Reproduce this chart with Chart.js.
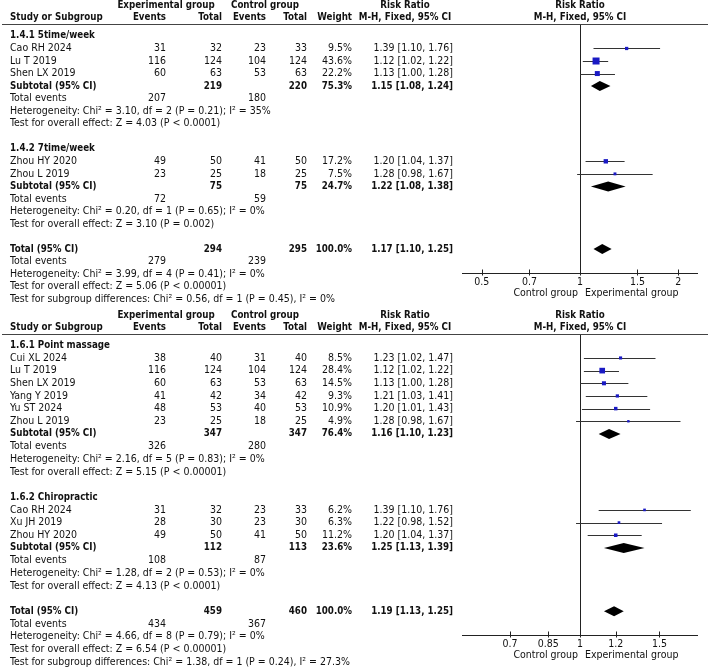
<!DOCTYPE html>
<html>
<head>
<meta charset="utf-8">
<script src="https://cdn.jsdelivr.net/npm/chart.js@4.4.1/dist/chart.umd.min.js"></script>
<style>
    html, body { margin: 0; padding: 0; background: #fff; }
    #wrap { position: relative; width: 708px; height: 672px; }
    canvas { position: absolute; left: 0; }
</style>
</head>
<body>
<div id="wrap">
    <canvas id="forest1" width="708" height="312" style="top:0"></canvas>
    <canvas id="forest2" width="708" height="362" style="top:310px"></canvas>
</div>
<script>
// ---- panel 1: 1.4 frequency ----
const p1Subgroups = ['1.4.1 5time/week', '1.4.2 7time/week'];
const p1Studies = ['Cao RH 2024', 'Lu T 2019', 'Shen LX 2019', 'Zhou HY 2020', 'Zhou L 2019'];
const p1Group = [0, 0, 0, 1, 1];
const p1ExpEvents = [31, 116, 60, 49, 23];
const p1ExpTotal = [32, 124, 63, 50, 25];
const p1CtrlEvents = [23, 104, 53, 41, 18];
const p1CtrlTotal = [33, 124, 63, 50, 25];
const p1Weight = [9.5, 43.6, 22.2, 17.2, 7.5];
const p1RR = [1.39, 1.12, 1.13, 1.20, 1.28];
const p1Lo = [1.10, 1.02, 1.00, 1.04, 0.98];
const p1Hi = [1.76, 1.22, 1.28, 1.37, 1.67];
const p1SubExpEvents = [207, 72];
const p1SubCtrlEvents = [180, 59];
const p1SubExpTotal = [219, 75];
const p1SubCtrlTotal = [220, 75];
const p1SubWeight = [75.3, 24.7];
const p1SubRR = [1.15, 1.22];
const p1SubLo = [1.08, 1.08];
const p1SubHi = [1.24, 1.38];
const p1SubHet = ['Heterogeneity: Chi² = 3.10, df = 2 (P = 0.21); I² = 35%', 'Heterogeneity: Chi² = 0.20, df = 1 (P = 0.65); I² = 0%'];
const p1SubTest = ['Test for overall effect: Z = 4.03 (P < 0.0001)', 'Test for overall effect: Z = 3.10 (P = 0.002)'];
const p1TotalEvents = [279, 239];
const p1TotalN = [294, 295];
const p1TotalRR = [1.17, 1.10, 1.25]; // estimate, lower, upper
const p1TotalNotes = ['Heterogeneity: Chi² = 3.99, df = 4 (P = 0.41); I² = 0%', 'Test for overall effect: Z = 5.06 (P < 0.00001)', 'Test for subgroup differences: Chi² = 0.56, df = 1 (P = 0.45), I² = 0%'];
const p1Ticks = [0.5, 0.7, 1, 1.5, 2];

// ---- panel 2: 1.6 method ----
const p2Subgroups = ['1.6.1 Point massage', '1.6.2 Chiropractic'];
const p2Studies = ['Cui XL 2024', 'Lu T 2019', 'Shen LX 2019', 'Yang Y 2019', 'Yu ST 2024', 'Zhou L 2019', 'Cao RH 2024', 'Xu JH 2019', 'Zhou HY 2020'];
const p2Group = [0, 0, 0, 0, 0, 0, 1, 1, 1];
const p2ExpEvents = [38, 116, 60, 41, 48, 23, 31, 28, 49];
const p2ExpTotal = [40, 124, 63, 42, 53, 25, 32, 30, 50];
const p2CtrlEvents = [31, 104, 53, 34, 40, 18, 23, 23, 41];
const p2CtrlTotal = [40, 124, 63, 42, 53, 25, 33, 30, 50];
const p2Weight = [8.5, 28.4, 14.5, 9.3, 10.9, 4.9, 6.2, 6.3, 11.2];
const p2RR = [1.23, 1.12, 1.13, 1.21, 1.20, 1.28, 1.39, 1.22, 1.20];
const p2Lo = [1.02, 1.02, 1.00, 1.03, 1.01, 0.98, 1.10, 0.98, 1.04];
const p2Hi = [1.47, 1.22, 1.28, 1.41, 1.43, 1.67, 1.76, 1.52, 1.37];
const p2SubExpEvents = [326, 108];
const p2SubCtrlEvents = [280, 87];
const p2SubExpTotal = [347, 112];
const p2SubCtrlTotal = [347, 113];
const p2SubWeight = [76.4, 23.6];
const p2SubRR = [1.16, 1.25];
const p2SubLo = [1.10, 1.13];
const p2SubHi = [1.23, 1.39];
const p2SubHet = ['Heterogeneity: Chi² = 2.16, df = 5 (P = 0.83); I² = 0%', 'Heterogeneity: Chi² = 1.28, df = 2 (P = 0.53); I² = 0%'];
const p2SubTest = ['Test for overall effect: Z = 5.15 (P < 0.00001)', 'Test for overall effect: Z = 4.13 (P < 0.0001)'];
const p2TotalEvents = [434, 367];
const p2TotalN = [459, 460];
const p2TotalRR = [1.19, 1.13, 1.25];
const p2TotalNotes = ['Heterogeneity: Chi² = 4.66, df = 8 (P = 0.79); I² = 0%', 'Test for overall effect: Z = 6.54 (P < 0.00001)', 'Test for subgroup differences: Chi² = 1.38, df = 1 (P = 0.24), I² = 27.3%'];
const p2Ticks = [0.7, 0.85, 1, 1.2, 1.5];

const FONT = '"DejaVu Sans Condensed", "DejaVu Sans", sans-serif';
const TEXT = '#111';
const SQUARE = '#1a1ac4';
const ROW0 = 32;      // y of first body row
const PITCH = 12.95;  // px per row
// column anchors
const COL = { name: 10, expEv: 166, expTot: 222, ctrlEv: 266, ctrlTot: 307, weight: 352, ci: 453, ciMid: 405 };

function fmt(v) { return v.toFixed(2); }
function ciText(rr, lo, hi) { return fmt(rr) + ' [' + fmt(lo) + ', ' + fmt(hi) + ']'; }

function text(ctx, s, x, y, align, bold) {
    ctx.font = bold ? 'bold 9.7px ' + FONT : '10.5px ' + FONT;
    ctx.textAlign = align;
    ctx.textBaseline = 'middle';
    ctx.fillStyle = TEXT;
    ctx.fillText(s, x, y);
}

function buildRows(d) {
    const rows = [];
    const studyIdx = [];
    let idx = 0;
    d.subgroups.forEach((name, g) => {
        rows.push({ kind: 'group', idx: idx++, label: name });
        d.studies.forEach((s, i) => {
            if (d.group[i] !== g) return;
            studyIdx[i] = idx;
            rows.push({ kind: 'study', idx: idx++, i });
        });
        rows.push({ kind: 'subtotal', idx: idx++, g });
        rows.push({ kind: 'events', idx: idx++, exp: d.subExpEvents[g], ctrl: d.subCtrlEvents[g] });
        rows.push({ kind: 'note', idx: idx++, label: d.subHet[g] });
        rows.push({ kind: 'note', idx: idx++, label: d.subTest[g] });
        idx++; // blank line
    });
    const totalIdx = idx;
    rows.push({ kind: 'total', idx: idx++ });
    rows.push({ kind: 'events', idx: idx++, exp: d.totalEvents[0], ctrl: d.totalEvents[1] });
    d.totalNotes.forEach(n => rows.push({ kind: 'note', idx: idx++, label: n }));
    return { rows, studyIdx, totalIdx };
}

function forestPlugin(d, layout) {
    return {
        id: 'forest',
        beforeDatasetsDraw(chart) {
            const { ctx, scales: { x, y }, chartArea } = chart;
            const diamond = (rr, lo, hi, row) => {
                const py = y.getPixelForValue(row);
                ctx.beginPath();
                ctx.moveTo(x.getPixelForValue(lo), py);
                ctx.lineTo(x.getPixelForValue(rr), py - 5);
                ctx.lineTo(x.getPixelForValue(hi), py);
                ctx.lineTo(x.getPixelForValue(rr), py + 5);
                ctx.closePath();
                ctx.fillStyle = '#000';
                ctx.fill();
            };
            ctx.save();

            // header
            const x1 = x.getPixelForValue(1);
            text(ctx, 'Experimental group', COL.expEv, 5, 'center', true);
            text(ctx, 'Control group', COL.ctrlEv - 1, 5, 'center', true);
            text(ctx, 'Risk Ratio', COL.ciMid, 5, 'center', true);
            text(ctx, 'Risk Ratio', x1, 5, 'center', true);
            text(ctx, 'Study or Subgroup', COL.name, 17, 'left', true);
            text(ctx, 'Events', COL.expEv, 17, 'right', true);
            text(ctx, 'Total', COL.expTot, 17, 'right', true);
            text(ctx, 'Events', COL.ctrlEv, 17, 'right', true);
            text(ctx, 'Total', COL.ctrlTot, 17, 'right', true);
            text(ctx, 'Weight', COL.weight, 17, 'right', true);
            text(ctx, 'M-H, Fixed, 95% CI', COL.ciMid, 17, 'center', true);
            text(ctx, 'M-H, Fixed, 95% CI', x1, 17, 'center', true);
            ctx.strokeStyle = '#444';
            ctx.lineWidth = 1;
            ctx.beginPath();
            ctx.moveTo(2, 24.5);
            ctx.lineTo(708, 24.5);
            ctx.stroke();

            // line of no effect and axis
            const axisY = Math.round(y.getPixelForValue(layout.totalIdx + 1.9)) + 0.5;
            ctx.strokeStyle = '#222';
            ctx.beginPath();
            ctx.moveTo(Math.round(x1) + 0.5, 25);
            ctx.lineTo(Math.round(x1) + 0.5, axisY);
            ctx.moveTo(chartArea.left, axisY);
            ctx.lineTo(chartArea.right, axisY);
            d.ticks.forEach(t => {
                const px = Math.round(x.getPixelForValue(t)) + 0.5;
                ctx.moveTo(px, axisY - 4);
                ctx.lineTo(px, axisY + 2);
            });
            ctx.stroke();
            d.ticks.forEach(t => text(ctx, String(t), x.getPixelForValue(t), axisY + 9, 'center', false));
            text(ctx, 'Control group', x1 - 2, axisY + 20, 'right', false);
            text(ctx, 'Experimental group', x1 + 5, axisY + 20, 'left', false);

            // table rows and whiskers/diamonds
            layout.rows.forEach(r => {
                const py = y.getPixelForValue(r.idx);
                if (r.kind === 'group') {
                    text(ctx, r.label, COL.name, py, 'left', true);
                } else if (r.kind === 'study') {
                    const i = r.i;
                    text(ctx, d.studies[i], COL.name, py, 'left', false);
                    text(ctx, String(d.expEvents[i]), COL.expEv, py, 'right', false);
                    text(ctx, String(d.expTotal[i]), COL.expTot, py, 'right', false);
                    text(ctx, String(d.ctrlEvents[i]), COL.ctrlEv, py, 'right', false);
                    text(ctx, String(d.ctrlTotal[i]), COL.ctrlTot, py, 'right', false);
                    text(ctx, d.weight[i].toFixed(1) + '%', COL.weight, py, 'right', false);
                    text(ctx, ciText(d.rr[i], d.lo[i], d.hi[i]), COL.ci, py, 'right', false);
                    const yy = Math.round(py) + 0.5;
                    ctx.strokeStyle = '#333';
                    ctx.beginPath();
                    ctx.moveTo(x.getPixelForValue(d.lo[i]), yy);
                    ctx.lineTo(x.getPixelForValue(d.hi[i]), yy);
                    ctx.stroke();
                } else if (r.kind === 'subtotal') {
                    const g = r.g;
                    text(ctx, 'Subtotal (95% CI)', COL.name, py, 'left', true);
                    text(ctx, String(d.subExpTotal[g]), COL.expTot, py, 'right', true);
                    text(ctx, String(d.subCtrlTotal[g]), COL.ctrlTot, py, 'right', true);
                    text(ctx, d.subWeight[g].toFixed(1) + '%', COL.weight, py, 'right', true);
                    text(ctx, ciText(d.subRR[g], d.subLo[g], d.subHi[g]), COL.ci, py, 'right', true);
                    diamond(d.subRR[g], d.subLo[g], d.subHi[g], r.idx);
                } else if (r.kind === 'events') {
                    text(ctx, 'Total events', COL.name, py, 'left', false);
                    text(ctx, String(r.exp), COL.expEv, py, 'right', false);
                    text(ctx, String(r.ctrl), COL.ctrlEv, py, 'right', false);
                } else if (r.kind === 'note') {
                    text(ctx, r.label, COL.name, py, 'left', false);
                } else if (r.kind === 'total') {
                    text(ctx, 'Total (95% CI)', COL.name, py, 'left', true);
                    text(ctx, String(d.totalN[0]), COL.expTot, py, 'right', true);
                    text(ctx, String(d.totalN[1]), COL.ctrlTot, py, 'right', true);
                    text(ctx, '100.0%', COL.weight, py, 'right', true);
                    text(ctx, ciText(d.totalRR[0], d.totalRR[1], d.totalRR[2]), COL.ci, py, 'right', true);
                    diamond(d.totalRR[0], d.totalRR[1], d.totalRR[2], r.idx);
                }
            });
            ctx.restore();
        }
    };
}

function createForest(canvasId, d, xMin, xMax) {
    const canvas = document.getElementById(canvasId);
    const H = canvas.height;
    const layout = buildRows(d);

    new Chart(canvas, {
        type: 'scatter',
        data: {
            datasets: [{
                data: d.rr.map((v, i) => ({ x: v, y: layout.studyIdx[i] })),
                pointStyle: 'rect',
                // square area proportional to weight
                pointRadius: d.weight.map(w => Math.max(2.4, 1.06 * Math.sqrt(w)) / Math.SQRT2),
                backgroundColor: SQUARE,
                borderWidth: 0
            }]
        },
        options: {
            responsive: false,
            animation: false,
            events: [],
            layout: { padding: { left: 462, right: 10, top: 0, bottom: 0 } },
            scales: {
                x: { type: 'logarithmic', min: xMin, max: xMax, bounds: 'data', display: false },
                y: { type: 'linear', reverse: true, bounds: 'data', min: -ROW0 / PITCH, max: (H - ROW0) / PITCH, display: false }
            },
            plugins: {
                legend: { display: false },
                tooltip: { enabled: false }
            }
        },
        plugins: [forestPlugin(d, layout)]
    });
}

createForest('forest1', {
    subgroups: p1Subgroups, studies: p1Studies, group: p1Group,
    expEvents: p1ExpEvents, expTotal: p1ExpTotal, ctrlEvents: p1CtrlEvents, ctrlTotal: p1CtrlTotal,
    weight: p1Weight, rr: p1RR, lo: p1Lo, hi: p1Hi,
    subExpEvents: p1SubExpEvents, subCtrlEvents: p1SubCtrlEvents, subExpTotal: p1SubExpTotal, subCtrlTotal: p1SubCtrlTotal,
    subWeight: p1SubWeight, subRR: p1SubRR, subLo: p1SubLo, subHi: p1SubHi, subHet: p1SubHet, subTest: p1SubTest,
    totalEvents: p1TotalEvents, totalN: p1TotalN, totalRR: p1TotalRR, totalNotes: p1TotalNotes, ticks: p1Ticks
}, 1 / 2.3, 2.3);

createForest('forest2', {
    subgroups: p2Subgroups, studies: p2Studies, group: p2Group,
    expEvents: p2ExpEvents, expTotal: p2ExpTotal, ctrlEvents: p2CtrlEvents, ctrlTotal: p2CtrlTotal,
    weight: p2Weight, rr: p2RR, lo: p2Lo, hi: p2Hi,
    subExpEvents: p2SubExpEvents, subCtrlEvents: p2SubCtrlEvents, subExpTotal: p2SubExpTotal, subCtrlTotal: p2SubCtrlTotal,
    subWeight: p2SubWeight, subRR: p2SubRR, subLo: p2SubLo, subHi: p2SubHi, subHet: p2SubHet, subTest: p2SubTest,
    totalEvents: p2TotalEvents, totalN: p2TotalN, totalRR: p2TotalRR, totalNotes: p2TotalNotes, ticks: p2Ticks
}, 1 / 1.826, 1.826);
</script>
</body>
</html>
